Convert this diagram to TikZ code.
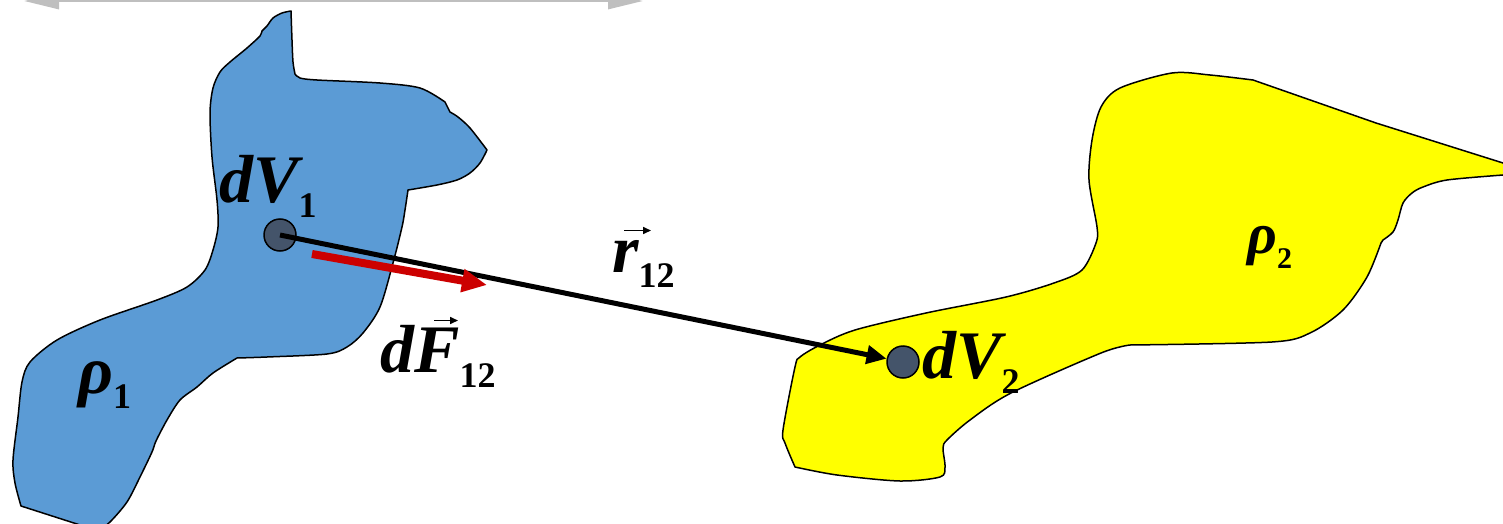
\documentclass[tikz,border=0pt]{standalone}
\usepackage{fontspec}
\setmainfont{Liberation Serif}
\usetikzlibrary{arrows.meta}
\definecolor{blobblue}{HTML}{5B9BD5}
\definecolor{blobyellow}{HTML}{FFFF00}
\definecolor{dotfill}{HTML}{44546A}
\definecolor{forcered}{HTML}{CC0000}
\definecolor{dimgray}{HTML}{BFBFBF}
\newcommand{\lblsub}[2][36]{\raisebox{-15pt}{\fontsize{#1}{#1}\selectfont\bfseries\upshape #2}}
\newcommand{\vecmark}[3]{\rlap{\kern#1\raisebox{#2}{\tikz[x=1pt,y=1pt]\draw[line width=1.6pt,-{Triangle[length=8pt,width=7pt]}] (0,0) -- (#3,0);}}}
\begin{document}
\begin{tikzpicture}[x=1pt,y=-1pt,
  blob/.style={draw=black,line width=1.5pt,line join=round},
  dot/.style={circle,draw=black,line width=1.5pt,fill=dotfill,minimum size=32pt,inner sep=0pt},
  vec/.style={line width=5pt,-{Triangle[length=20pt,width=18pt]}},
  force/.style={line width=8pt,draw=forcered,-{Triangle[length=25pt,width=22pt,fill=forcered]}},
  dimline/.style={line width=3pt,draw=dimgray,{Triangle[length=35pt,width=16pt]}-{Triangle[length=35pt,width=16pt]}},
  lbl/.style={anchor=base west,inner sep=0pt,font=\fontsize{68}{68}\selectfont\bfseries\itshape}
]
\useasboundingbox (0,0) rectangle (1503,524);
% dimension line at the top
\coordinate (ga) at (24,1);
\coordinate (gb) at (643,1);
\draw[dimline] (ga) -- (gb);
% blue blob
\filldraw[blob,fill=blobblue]
  plot[smooth,tension=0.5] coordinates {(291,11) (282,13) (273,18) (267,26) (262,31) (260,36) (247,48) (230,62) (220,72) (213,88) (210,113) (212,157) (217,200) (218,227) (213,250) (205,270) (187,287) (157,300) (100,320) (57,340) (30,362) (22,382) (18,417) (13,460) (15,483) (21,506)}
  -- (77,524) -- (98,531)
  -- plot[smooth,tension=0.5] coordinates {(98,531) (110,522) (127,502) (140,477) (152,452) (156,441) (167,420) (180,400) (197,387) (213,373) (237,358)}
  -- plot[smooth,tension=0.5] coordinates {(237,358) (267,357) (327,354) (347,347) (363,333) (380,307) (393,263) (402,227) (405,210) (408,190)}
  -- plot[smooth,tension=0.5] coordinates {(408,190) (437,185) (457,180) (470,173) (480,163) (487,150)}
  -- plot[smooth,tension=0.5] coordinates {(487,150) (470,128) (458,117) (450,112)}
  -- plot[smooth,tension=0.5] coordinates {(445,102) (420,88) (380,83) (317,80) (300,78) (295,74)}
  -- plot[smooth,tension=0.5] coordinates {(295,74) (293,62) (292,40) (291,11)}
  -- cycle;
% yellow blob
\filldraw[blob,fill=blobyellow]
  plot[smooth,tension=0.5] coordinates {(795,467) (785,443) (783,430) (795,367) (800,357) (820,345) (855,330) (926,313) (1006,297) (1054,283) (1082,270) (1096,243) (1097,227) (1089,180) (1092,140) (1101,107) (1120,88) (1172,73) (1210,75) (1253,80)}
  -- (1376,123) -- (1503,163) -- (1515,168) -- (1503,175)
  -- plot[smooth,tension=0.5] coordinates {(1503,175) (1447,180) (1423,187) (1412,193) (1403,203) (1398,220) (1393,232) (1383,240)}
  -- plot[smooth,tension=0.5] coordinates {(1381,243) (1367,277) (1343,310) (1310,333) (1272,342) (1130,345)}
  -- plot[smooth,tension=0.5] coordinates {(1130,345) (1101,353) (1011,393) (970,420) (947,440) (943,448) (945,467) (940,477) (900,481) (837,475) (795,467)}
  -- cycle;
% volume elements
\node[dot] (v1) at (280,235) {};
\node[dot] (v2) at (903,362) {};
% separation vector
\draw[vec] (v1.center) -- (v2);
% force vector
\coordinate (f0) at (312,254);
\coordinate (f1) at (487,285);
\draw[force] (f0) -- (f1);
% labels
\node[lbl] (lv1) at (219,202) {dV\lblsub{1}};
\node[lbl] (lr1) at (78,393) {ρ\lblsub{1}};
\node[lbl] (lf) at (380,372) {d\vecmark{19pt}{48pt}{24}F\lblsub{12}};
\node[lbl] (lr) at (612,272) {\vecmark{11pt}{38pt}{27}r\lblsub{12}};
\node[lbl] (lv2) at (922,378) {dV\lblsub{2}};
\node[lbl,font=\fontsize{58}{58}\selectfont\bfseries\itshape] (lr2) at (1247,253) {ρ\lblsub[30]{2}};
\end{tikzpicture}
\end{document}
